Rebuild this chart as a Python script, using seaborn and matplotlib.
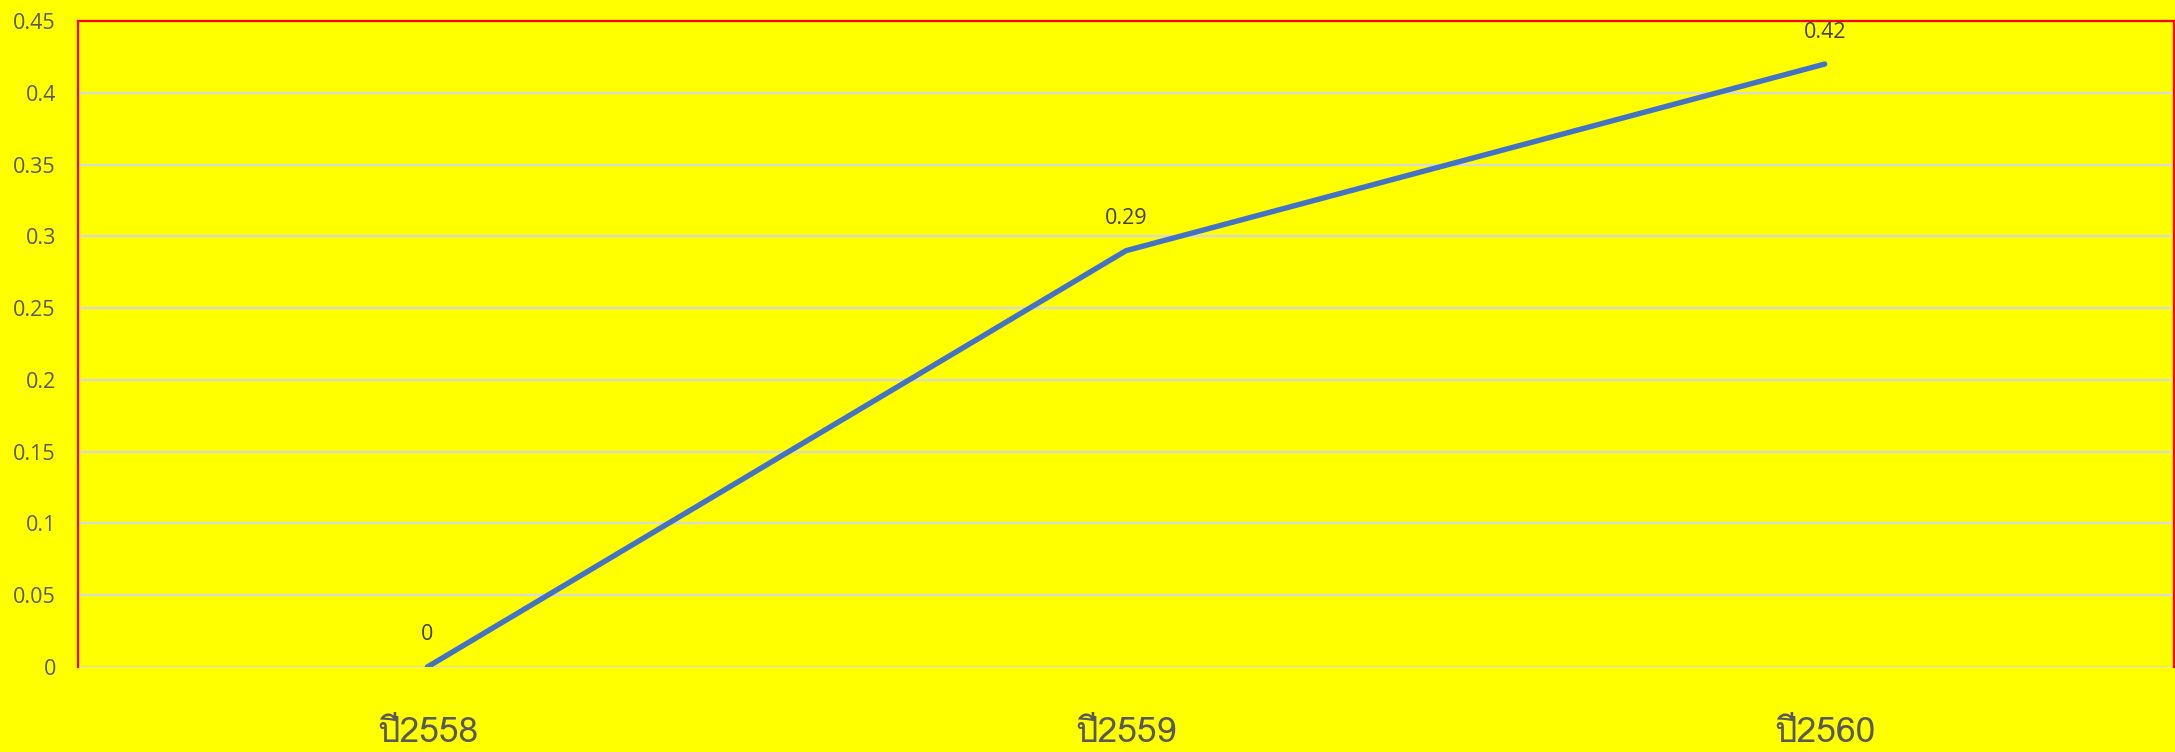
import matplotlib
matplotlib.use("Agg")
import matplotlib.pyplot as plt
from matplotlib import font_manager
from matplotlib.ft2font import FT2Font
import seaborn as sns
import pandas as pd

years = ["ปี2558", "ปี2559", "ปี2560"]
values = [0, 0.29, 0.42]
value_labels = ["0", "0.29", "0.42"]
yticks = [0, 0.05, 0.1, 0.15, 0.2, 0.25, 0.3, 0.35, 0.4, 0.45]
ytick_labels = ["0", "0.05", "0.1", "0.15", "0.2", "0.25", "0.3", "0.35", "0.4", "0.45"]

sns.set_theme(style="white")

# find a font with Thai glyphs
thai_family = None
for f in font_manager.fontManager.ttflist:
    try:
        ft = FT2Font(f.fname)
        cm = ft.get_charmap()
        if 0x0E1B in cm and 0x0E35 in cm and 0x32 in cm:
            thai_family = f.name
            if "Sans" in f.name or "Loma" in f.name or "Tahoma" in f.name:
                break
    except Exception:
        pass
fams = ([thai_family] if thai_family else []) + ["Open Sans", "DejaVu Sans"]
plt.rcParams["font.family"] = fams

df = pd.DataFrame({"year": years, "value": values})

fig = plt.figure(figsize=(21.75, 7.52), dpi=100)
fig.patch.set_facecolor("#FFFF00")
ax = fig.add_axes([78 / 2175, 1 - 667 / 752, (2174 - 78) / 2175, (667 - 21) / 752])
ax.set_facecolor("#FFFF00")

sns.lineplot(data=df, x="year", y="value", ax=ax, color="#4472C4", linewidth=3.9,
             solid_capstyle="round", sort=False)

ax.set_xlim(-0.5, 2.5)
ax.set_ylim(0, 0.45)
ax.set_yticks(yticks)
ax.set_yticklabels(ytick_labels, fontsize=15.5, color="#595959", family=["Open Sans", "DejaVu Sans"])
ax.set_xticks(range(len(years)))
ax.set_xticklabels(years, fontsize=25.5, color="#595959")
ax.tick_params(axis="y", length=0, pad=16)
ax.tick_params(axis="x", length=0, pad=36)
ax.set_xlabel("")
ax.set_ylabel("")
for y in yticks:
    ax.axhline(y, color="#D9D9D9", linewidth=1.6, zorder=0)

for i, (v, lab) in enumerate(zip(values, value_labels)):
    ax.annotate(lab, (i, v), xytext=(0, 32), textcoords="offset pixels",
                ha="center", va="center", fontsize=15.5, color="#404040",
                family=["Open Sans", "DejaVu Sans"])

for side in ["left", "top", "right"]:
    ax.spines[side].set_color("#FF0000")
    ax.spines[side].set_linewidth(1.6)
    ax.spines[side].set_visible(True)
ax.spines["bottom"].set_visible(False)

fig.savefig("out.png", dpi=100, facecolor=fig.get_facecolor())
